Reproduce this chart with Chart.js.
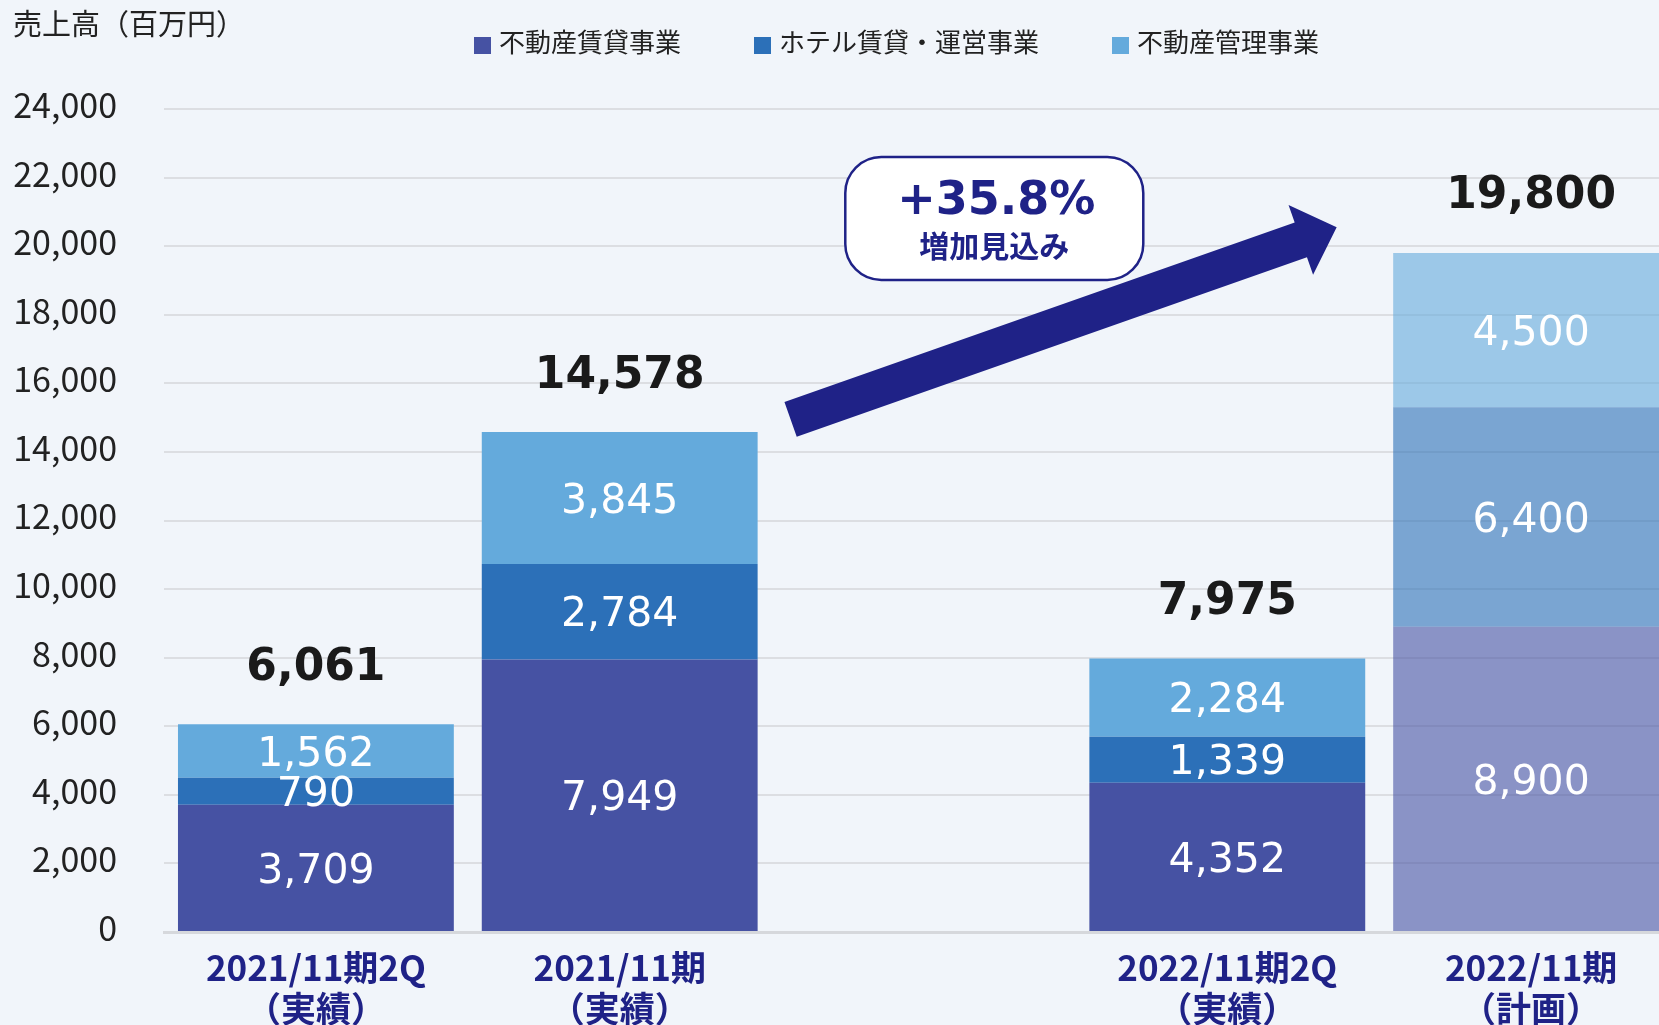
<!DOCTYPE html>
<html lang="ja">
<head>
<meta charset="utf-8">
<title>売上高</title>
<script src="https://cdn.jsdelivr.net/npm/chart.js@4.4.1/dist/chart.umd.min.js"></script>
<style>
  html, body { margin: 0; padding: 0; overflow: hidden; background: #f1f5fa; }
  canvas { display: block; }
</style>
</head>
<body>
<canvas id="salesChart" width="1700" height="1025"></canvas>
<script>
const categories = [
  ["2021/11期2Q", "（実績）"],
  ["2021/11期", "（実績）"],
  "",
  ["2022/11期2Q", "（実績）"],
  ["2022/11期", "（計画）"],
];
const isPlan = [false, false, false, false, true];
const seriesNames = ["不動産賃貸事業", "ホテル賃貸・運営事業", "不動産管理事業"];
const rentalValues = [3709, 7949, null, 4352, 8900];
const hotelValues = [790, 2784, null, 1339, 6400];
const managementValues = [1562, 3845, null, 2284, 4500];
const totalValues = [6061, 14578, null, 7975, 19800];
const yTickValues = [0, 2000, 4000, 6000, 8000, 10000, 12000, 14000, 16000, 18000, 20000, 22000, 24000];

const seriesColors = ["#4652a3", "#2c70b8", "#64aadc"];
const planColors = ["rgba(70,82,163,0.6)", "rgba(44,112,184,0.6)", "rgba(100,170,220,0.6)"];
const navy = "#1f2287";
const jpFont = "'Noto Sans CJK JP', 'Noto Sans', sans-serif";
const numFont = "'DejaVu Sans', Verdana, sans-serif";

function barColors(i) {
  return categories.map((c, k) => (isPlan[k] ? planColors[i] : seriesColors[i]));
}

const header = {
  id: "header",
  afterDraw(chart) {
    const ctx = chart.ctx;
    ctx.save();
    ctx.textBaseline = "middle";
    ctx.textAlign = "left";
    ctx.fillStyle = "#222";
    ctx.font = "29px " + jpFont;
    ctx.fillText("売上高（百万円）", 13, 24);
    ctx.font = "26px " + jpFont;
    let lx = 474;
    seriesNames.forEach((name, i) => {
      ctx.fillStyle = seriesColors[i];
      ctx.fillRect(lx, 37, 17, 17);
      ctx.fillStyle = "#222";
      ctx.fillText(name, lx + 25, 42);
      lx += 25 + ctx.measureText(name).width + 73;
    });
    ctx.restore();
  },
};

const valueLabels = {
  id: "valueLabels",
  afterDatasetsDraw(chart) {
    const ctx = chart.ctx;
    const { x, y } = chart.scales;
    ctx.save();
    ctx.textAlign = "center";
    ctx.textBaseline = "middle";
    ctx.fillStyle = "#ffffff";
    ctx.font = "41px " + numFont;
    chart.data.datasets.forEach((ds, di) => {
      chart.getDatasetMeta(di).data.forEach((bar, i) => {
        if (ds.data[i] == null) return;
        ctx.fillText(ds.data[i].toLocaleString("en-US"), bar.x, (bar.y + bar.base) / 2 + 4);
      });
    });
    ctx.fillStyle = "#1a1a1a";
    ctx.font = "bold 44px " + numFont;
    totalValues.forEach((t, i) => {
      if (t == null) return;
      ctx.fillText(t.toLocaleString("en-US"), x.getPixelForValue(i), y.getPixelForValue(t) - 56);
    });
    ctx.restore();
  },
};

// 右上がりの矢印と「+35.8% 増加見込み」の吹き出し
const growthNote = {
  id: "growthNote",
  afterDatasetsDraw(chart) {
    const ctx = chart.ctx;
    const { x, y } = chart.scales;
    const step = x.getPixelForValue(1) - x.getPixelForValue(0);

    const x0 = x.getPixelForValue(1) + step * 0.5625;
    const y0 = y.getPixelForValue(14950);
    const x1 = x.getPixelForValue(3) + step * 0.36;
    const y1 = y.getPixelForValue(20550);
    const len = Math.hypot(x1 - x0, y1 - y0);
    const half = 18.5, headLen = 38, headHalf = 37;
    ctx.save();
    ctx.translate(x0, y0);
    ctx.rotate(Math.atan2(y1 - y0, x1 - x0));
    ctx.beginPath();
    ctx.moveTo(0, -half);
    ctx.lineTo(len - headLen, -half);
    ctx.lineTo(len - headLen, -headHalf);
    ctx.lineTo(len, 0);
    ctx.lineTo(len - headLen, headHalf);
    ctx.lineTo(len - headLen, half);
    ctx.lineTo(0, half);
    ctx.closePath();
    ctx.fillStyle = navy;
    ctx.fill();
    ctx.restore();

    const cx = x.getPixelForValue(2) + step * 0.233;
    const top = y.getPixelForValue(22600);
    const w = 298, h = 123;
    ctx.save();
    ctx.beginPath();
    ctx.roundRect(cx - w / 2, top, w, h, 36);
    ctx.fillStyle = "#ffffff";
    ctx.fill();
    ctx.lineWidth = 2.5;
    ctx.strokeStyle = navy;
    ctx.stroke();
    ctx.fillStyle = navy;
    ctx.textAlign = "center";
    ctx.textBaseline = "middle";
    ctx.font = "bold 46px " + numFont;
    ctx.fillText("+35.8%", cx + 2, top + 45);
    ctx.font = "bold 30px " + jpFont;
    ctx.fillText("増加見込み", cx, top + 89);
    ctx.restore();
  },
};

const ctx = document.getElementById("salesChart");
new Chart(ctx, {
  type: "bar",
  data: {
    labels: categories,
    datasets: [
      { label: seriesNames[0], data: rentalValues, backgroundColor: barColors(0) },
      { label: seriesNames[1], data: hotelValues, backgroundColor: barColors(1) },
      { label: seriesNames[2], data: managementValues, backgroundColor: barColors(2) },
    ],
  },
  options: {
    responsive: false,
    animation: false,
    events: [],
    layout: { padding: { top: 109, right: 17, bottom: 0, left: 0 } },
    datasets: {
      bar: { categoryPercentage: 1, barPercentage: 0.908 },
    },
    plugins: {
      legend: { display: false },
      title: { display: false },
      tooltip: { enabled: false },
    },
    scales: {
      x: {
        stacked: true,
        afterFit: (scale) => { scale.height = 93; },
        grid: { display: false },
        border: { color: "#d6d8dc", width: 3 },
        ticks: {
          autoSkip: false,
          maxRotation: 0,
          padding: 8,
          color: navy,
          font: { family: jpFont, size: 35, weight: "bold", lineHeight: 1.15 },
        },
      },
      y: {
        stacked: true,
        min: 0,
        max: 24000,
        afterFit: (scale) => { scale.width = 164; },
        afterBuildTicks: (scale) => { scale.ticks = yTickValues.map((v) => ({ value: v })); },
        grid: { color: "#dcdee2", lineWidth: 2, drawTicks: false },
        border: { display: false },
        ticks: {
          padding: 47,
          labelOffset: -4,
          color: "#222",
          font: { family: jpFont, size: 34 },
          callback: (v) => v.toLocaleString("en-US"),
        },
      },
    },
  },
  plugins: [header, valueLabels, growthNote],
});
</script>
</body>
</html>
